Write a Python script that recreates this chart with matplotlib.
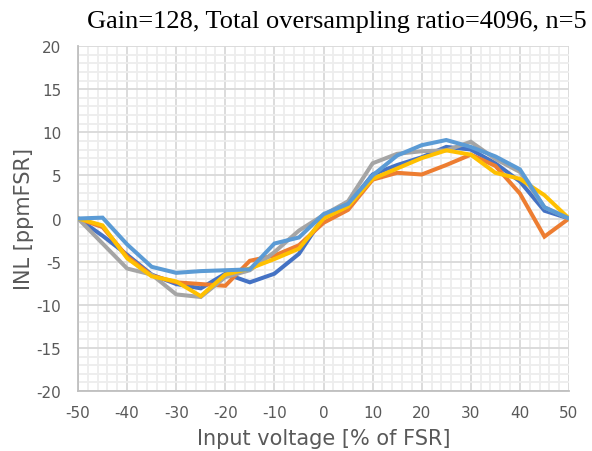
import matplotlib
matplotlib.use("Agg")
import matplotlib.pyplot as plt
import numpy as np
from matplotlib.ticker import MultipleLocator

plt.rcParams["axes.unicode_minus"] = False

x = [-50, -45, -40, -35, -30, -25, -20, -15, -10, -5, 0, 5, 10, 15, 20, 25, 30, 35, 40, 45, 50]

s_blue = [0, -2.0, -4.2, -6.5, -7.6, -8.1, -6.4, -7.4, -6.4, -4.1, 0.2, 1.5, 5.1, 6.2, 7.1, 8.3, 8.0, 6.4, 4.3, 0.9, 0]
s_orange = [0, -1.0, -4.4, -6.6, -7.4, -7.6, -7.8, -4.9, -4.3, -3.1, -0.5, 1.0, 4.5, 5.3, 5.1, 6.2, 7.4, 6.1, 2.9, -2.1, 0]
s_gray = [0, -2.9, -5.8, -6.5, -8.8, -9.1, -6.8, -6.0, -3.9, -1.4, 0.4, 2.0, 6.4, 7.5, 7.8, 7.9, 8.9, 6.9, 5.4, 1.3, 0]
s_yellow = [0, -0.8, -4.6, -6.7, -7.3, -9.0, -6.5, -5.8, -4.7, -3.5, 0.0, 1.4, 4.6, 5.8, 7.0, 7.9, 7.4, 5.3, 4.6, 2.7, 0]
s_lightblue = [0, 0.1, -3.0, -5.6, -6.3, -6.1, -6.0, -5.9, -2.9, -2.2, 0.5, 1.7, 5.0, 7.3, 8.5, 9.1, 8.3, 7.2, 5.7, 1.3, 0]

series = [s_blue, s_orange, s_gray, s_yellow, s_lightblue]
colors = ["#4472C4", "#ED7D31", "#A5A5A5", "#FFC000", "#5B9BD5"]

fig = plt.figure(figsize=(5.92, 4.52), dpi=100)
ax = fig.add_axes([78/592, 1-392/452, (569-78)/592, (392-47)/452])

for s, c in zip(series, colors):
    ax.plot(x, s, color=c, lw=2.9, solid_joinstyle="miter", zorder=3)

ax.set_xlim(-50, 50)
ax.set_ylim(-20, 20)
ax.xaxis.set_major_locator(MultipleLocator(10))
ax.xaxis.set_minor_locator(MultipleLocator(2))
ax.yaxis.set_major_locator(MultipleLocator(5))
ax.yaxis.set_minor_locator(MultipleLocator(1))
ax.grid(which="major", color="#D9D9D9", lw=1.3, zorder=1)
ax.grid(which="minor", color="#EDEDED", lw=1.3, zorder=0)
ax.tick_params(which="both", length=0, colors="#595959", labelsize=11)
ax.tick_params(axis="x", pad=10)
ax.tick_params(axis="y", pad=12)
for side in ["top", "right"]:
    ax.spines[side].set_visible(False)
for side in ["left", "bottom"]:
    ax.spines[side].set_color("#BFBFBF")
    ax.spines[side].set_linewidth(1.3)

ax.set_xlabel("Input voltage [% of FSR]", fontsize=15, color="#595959", labelpad=6)
ax.set_ylabel("INL [ppmFSR]", fontsize=15, color="#595959", labelpad=2)

fig.text(337/592, 1-22/452, "Gain=128, Total oversampling ratio=4096, n=5",
         ha="center", va="center", fontsize=19, family="Liberation Serif", color="black")

fig.savefig("out.png", dpi=100)
